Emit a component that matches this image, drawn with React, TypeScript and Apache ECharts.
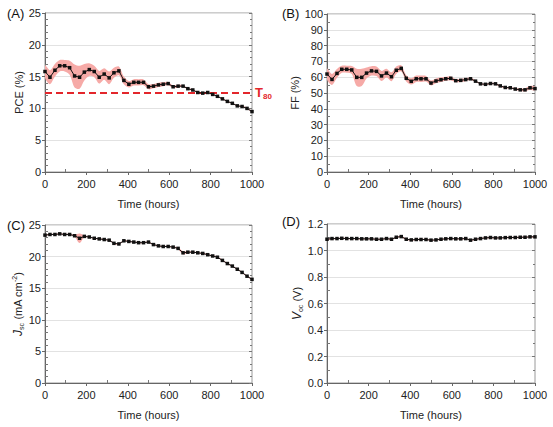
import React, { useEffect, useRef } from "react";
import * as echarts from "echarts";

const TIME = [0, 24, 48, 71, 95, 119, 143, 167, 190, 214, 238, 262, 286, 310, 333, 357, 381, 405, 429, 452, 476, 500, 524, 548, 571, 595, 619, 643, 667, 690, 714, 738, 762, 786, 810, 833, 857, 881, 905, 929, 952, 976, 1000];

const PCE = [15.8, 14.9, 16.0, 16.7, 16.7, 16.4, 15.1, 14.9, 15.7, 16.1, 15.8, 14.9, 15.4, 14.8, 15.6, 15.9, 14.4, 13.8, 14.1, 14.1, 14.1, 13.4, 13.5, 13.7, 13.8, 13.9, 13.4, 13.5, 13.5, 13.1, 12.9, 12.5, 12.4, 12.5, 12.2, 11.9, 11.5, 11.1, 10.8, 10.4, 10.3, 10.0, 9.5];
const PCE_SD = [1.0, 1.1, 1.0, 0.9, 0.9, 1.1, 1.8, 1.8, 1.3, 1.0, 0.9, 1.0, 0.9, 1.0, 0.8, 0.7, 0.6, 0.5, 0.5, 0.5, 0.45, 0.4, 0.35, 0.35, 0.3, 0.25, 0.2, 0.2, 0.15, 0.15, 0.1, 0.1, 0.1, 0.1, 0.1, 0.1, 0.1, 0.1, 0.1, 0.1, 0.1, 0.1, 0.1];
const PCE_T80 = 12.45;

const FF = [62.0, 58.6, 62.4, 65.0, 65.0, 64.6, 59.9, 59.9, 62.6, 64.0, 63.7, 60.8, 62.6, 60.3, 64.4, 65.6, 59.3, 57.4, 59.0, 59.0, 59.0, 56.3, 57.6, 58.4, 59.0, 59.3, 57.8, 58.0, 58.5, 59.0, 57.5, 55.8, 55.5, 56.0, 55.8, 54.5, 53.5, 53.3, 52.5, 52.0, 52.0, 53.3, 52.8];
const FF_SD = [3.5, 3.5, 2.8, 2.2, 2.2, 2.5, 5.5, 5.5, 3.5, 3.0, 3.0, 3.2, 2.8, 2.8, 2.4, 2.0, 2.0, 2.0, 2.0, 2.0, 1.8, 1.6, 1.5, 1.5, 1.3, 1.2, 1.0, 1.0, 1.0, 0.8, 0.6, 0.5, 0.5, 0.5, 0.5, 0.5, 0.5, 0.5, 0.6, 0.8, 1.0, 1.2, 1.2];

const JSC = [23.4, 23.5, 23.5, 23.6, 23.5, 23.5, 23.3, 22.9, 23.2, 23.1, 22.9, 22.8, 22.7, 22.6, 22.1, 22.0, 22.5, 22.4, 22.3, 22.2, 22.2, 22.3, 21.9, 21.7, 21.6, 21.6, 21.5, 21.3, 20.6, 20.7, 20.7, 20.6, 20.5, 20.3, 20.1, 19.9, 19.4, 18.9, 18.5, 18.0, 17.5, 16.9, 16.4];
const JSC_SD = [0.1, 0.1, 0.1, 0.1, 0.1, 0.1, 0.15, 0.75, 0.15, 0.1, 0.1, 0.1, 0.1, 0.1, 0.1, 0.1, 0.1, 0.1, 0.1, 0.1, 0.1, 0.1, 0.1, 0.1, 0.1, 0.1, 0.1, 0.15, 0.25, 0.15, 0.1, 0.1, 0.1, 0.1, 0.1, 0.1, 0.1, 0.1, 0.1, 0.1, 0.1, 0.1, 0.1];

const VOC = [1.085, 1.09, 1.09, 1.092, 1.09, 1.09, 1.09, 1.088, 1.088, 1.088, 1.085, 1.085, 1.09, 1.085, 1.1, 1.105, 1.085, 1.08, 1.083, 1.083, 1.083, 1.078, 1.08, 1.085, 1.088, 1.09, 1.088, 1.088, 1.09, 1.078, 1.085, 1.09, 1.095, 1.098, 1.095, 1.095, 1.097, 1.098, 1.098, 1.1, 1.1, 1.103, 1.103];
const VOC_SD = [0.005, 0.005, 0.005, 0.005, 0.005, 0.005, 0.005, 0.005, 0.005, 0.005, 0.005, 0.005, 0.005, 0.005, 0.006, 0.006, 0.005, 0.005, 0.005, 0.005, 0.005, 0.005, 0.005, 0.005, 0.005, 0.005, 0.005, 0.005, 0.005, 0.005, 0.005, 0.005, 0.005, 0.005, 0.005, 0.005, 0.005, 0.005, 0.005, 0.005, 0.005, 0.005, 0.005];

const X_TICKS = { min: 0, max: 1000, interval: 200 };
const PANEL_LABELS = ["(A)", "(B)", "(C)", "(D)"];

const FONT = "'Liberation Sans', Arial, Helvetica, sans-serif";
const BAND = "#f6aaa7";

const App: React.FC = () => {
  const ref = useRef<HTMLDivElement>(null);

  useEffect(() => {
    if (!ref.current) return;
    const chart = echarts.init(ref.current, undefined, { renderer: "svg" });

    const panels = [
      { data: PCE, sd: PCE_SD, min: 0, max: 25, interval: 5, minor: 5, name: "PCE (%)", nameGap: 17, fmt: (v: number) => String(v), grid: { left: 45, top: 13, width: 207, height: 159 }, lab: { left: 7, top: 7 } },
      { data: FF, sd: FF_SD, min: 0, max: 100, interval: 10, minor: 2, name: "FF (%)", nameGap: 24, fmt: (v: number) => String(v), grid: { left: 327, top: 14, width: 208, height: 158 }, lab: { left: 282, top: 7 } },
      { data: JSC, sd: JSC_SD, min: 0, max: 25, interval: 5, minor: 5, name: "{i|J}{sub|sc} (mA cm{sup|-2})", nameGap: 19, fmt: (v: number) => String(v), grid: { left: 45, top: 225, width: 207, height: 158 }, lab: { left: 7, top: 219 } },
      { data: VOC, sd: VOC_SD, min: 0, max: 1.2, interval: 0.2, minor: 2, name: "{i|V}{sub|oc} (V)", nameGap: 22, fmt: (v: number) => v.toFixed(1), grid: { left: 327, top: 224, width: 208, height: 159 }, lab: { left: 282, top: 215 } },
    ];

    const rich = {
      i: { fontStyle: "italic", fontWeight: "normal", fontSize: 12, fontFamily: FONT, color: "#222" },
      sub: { fontSize: 7, fontWeight: "normal", fontFamily: FONT, color: "#222", padding: [7, 0, 0, 0] },
      sup: { fontSize: 7, fontWeight: "normal", fontFamily: FONT, color: "#222", padding: [0, 0, 7, 0] },
    };

    const grids: any[] = [];
    const xAxes: any[] = [];
    const yAxes: any[] = [];
    const series: any[] = [];
    const graphics: any[] = [];

    panels.forEach((p, i) => {
      grids.push({ ...p.grid, show: true, borderColor: "#9a9a9a", borderWidth: 1, backgroundColor: "transparent" });
      const xBase = { gridIndex: i, type: "value", position: "bottom", ...X_TICKS };
      xAxes.push({
        ...xBase,
        axisLine: { show: true, lineStyle: { color: "#666" } },
        axisTick: { show: true, length: 3, lineStyle: { color: "#666" } },
        axisLabel: { fontSize: 11, fontWeight: "normal", color: "#222", fontFamily: FONT, margin: 6, formatter: (v: number) => String(v) },
        splitLine: { show: false },
        name: "Time (hours)",
        nameLocation: "middle",
        nameGap: 26,
        nameTextStyle: { fontSize: 11, fontWeight: "normal", color: "#222", fontFamily: FONT },
      });
      xAxes.push({
        ...xBase,
        axisLine: { show: false },
        axisTick: { show: false, inside: true },
        minorTick: { show: true, splitNumber: 2, length: 3, lineStyle: { color: "#777" } },
        axisLabel: { show: false },
        splitLine: { show: false },
      });
      const yBase = { gridIndex: i, type: "value", min: p.min, max: p.max, interval: p.interval };
      yAxes.push({
        ...yBase,
        position: "left",
        axisLine: { show: true, lineStyle: { color: "#666" } },
        axisTick: { show: true, length: 3, lineStyle: { color: "#666" } },
        axisLabel: { fontSize: 11, fontWeight: "normal", color: "#222", fontFamily: FONT, margin: 4, formatter: p.fmt },
        splitLine: { show: true, lineStyle: { color: "#e2e2e2", width: 1 } },
        name: p.name,
        nameLocation: "middle",
        nameGap: p.nameGap,
        nameRotate: 90,
        nameTextStyle: { fontSize: 11, fontWeight: "normal", color: "#222", fontFamily: FONT, rich },
      });
      yAxes.push({
        ...yBase,
        position: "left",
        axisLine: { show: false },
        axisTick: { show: false, inside: true },
        minorTick: { show: true, splitNumber: p.minor, length: 3, lineStyle: { color: "#777" } },
        axisLabel: { show: false },
        splitLine: { show: false },
      });
      yAxes.push({
        ...yBase,
        position: "right",
        axisLine: { show: false },
        axisTick: { show: true, inside: true, length: 3, lineStyle: { color: "#777" } },
        minorTick: { show: true, splitNumber: p.minor, length: 2, lineStyle: { color: "#777" } },
        axisLabel: { show: false },
        splitLine: { show: false },
      });

      const xi = 2 * i;
      const yi = 3 * i;
      const bandRows = TIME.map((t, k) => [t, p.data[k] - p.sd[k], p.data[k] + p.sd[k]]);
      const main = TIME.map((t, k) => [t, p.data[k]]);

      series.push({
        type: "custom",
        xAxisIndex: xi,
        yAxisIndex: yi,
        data: bandRows,
        encode: { x: 0, y: [1, 2] },
        silent: true,
        clip: true,
        z: 1,
        renderItem: (params: any, api: any) => {
          if (params.dataIndex !== 0) return null;
          const upper = bandRows.map((r) => api.coord([r[0], r[2]]));
          const lower = bandRows.map((r) => api.coord([r[0], r[1]])).reverse();
          return {
            type: "group",
            children: [
              {
                type: "polygon",
                shape: { points: upper.concat(lower), smooth: 0.3 },
                style: { fill: BAND, stroke: "none" },
              },
            ],
          };
        },
      });
      const mainSeries: any = {
        type: "line", xAxisIndex: xi, yAxisIndex: yi, data: main,
        symbol: "rect", symbolSize: 3.5, itemStyle: { color: "#111" },
        lineStyle: { color: "#111", width: 1 }, z: 3,
      };
      if (i === 0) {
        mainSeries.markLine = {
          silent: true,
          symbol: ["none", "none"],
          data: [{ yAxis: PCE_T80 }],
          lineStyle: { color: "#e3262b", type: [7, 4], width: 2 },
          label: {
            show: true,
            position: "end",
            distance: 3,
            formatter: "{t|T}{s|80}",
            rich: {
              t: { color: "#e3262b", fontSize: 13, fontWeight: "bold", fontFamily: FONT },
              s: { color: "#e3262b", fontSize: 8, fontWeight: "bold", fontFamily: FONT, padding: [8, 0, 0, 0] },
            },
          },
          z: 2,
        };
      }
      series.push(mainSeries);

      graphics.push({
        type: "text",
        left: p.lab.left,
        top: p.lab.top,
        style: { text: PANEL_LABELS[i], fontSize: 13, fontWeight: "normal", fontFamily: FONT, fill: "#111" },
      });
    });

    chart.setOption({
      animation: false,
      backgroundColor: "#ffffff",
      grid: grids,
      xAxis: xAxes,
      yAxis: yAxes,
      series,
      graphic: graphics,
    });

    return () => chart.dispose();
  }, []);

  return <div ref={ref} style={{ position: "fixed", left: 0, top: 0, width: 553, height: 427 }} />;
};

export default App;
